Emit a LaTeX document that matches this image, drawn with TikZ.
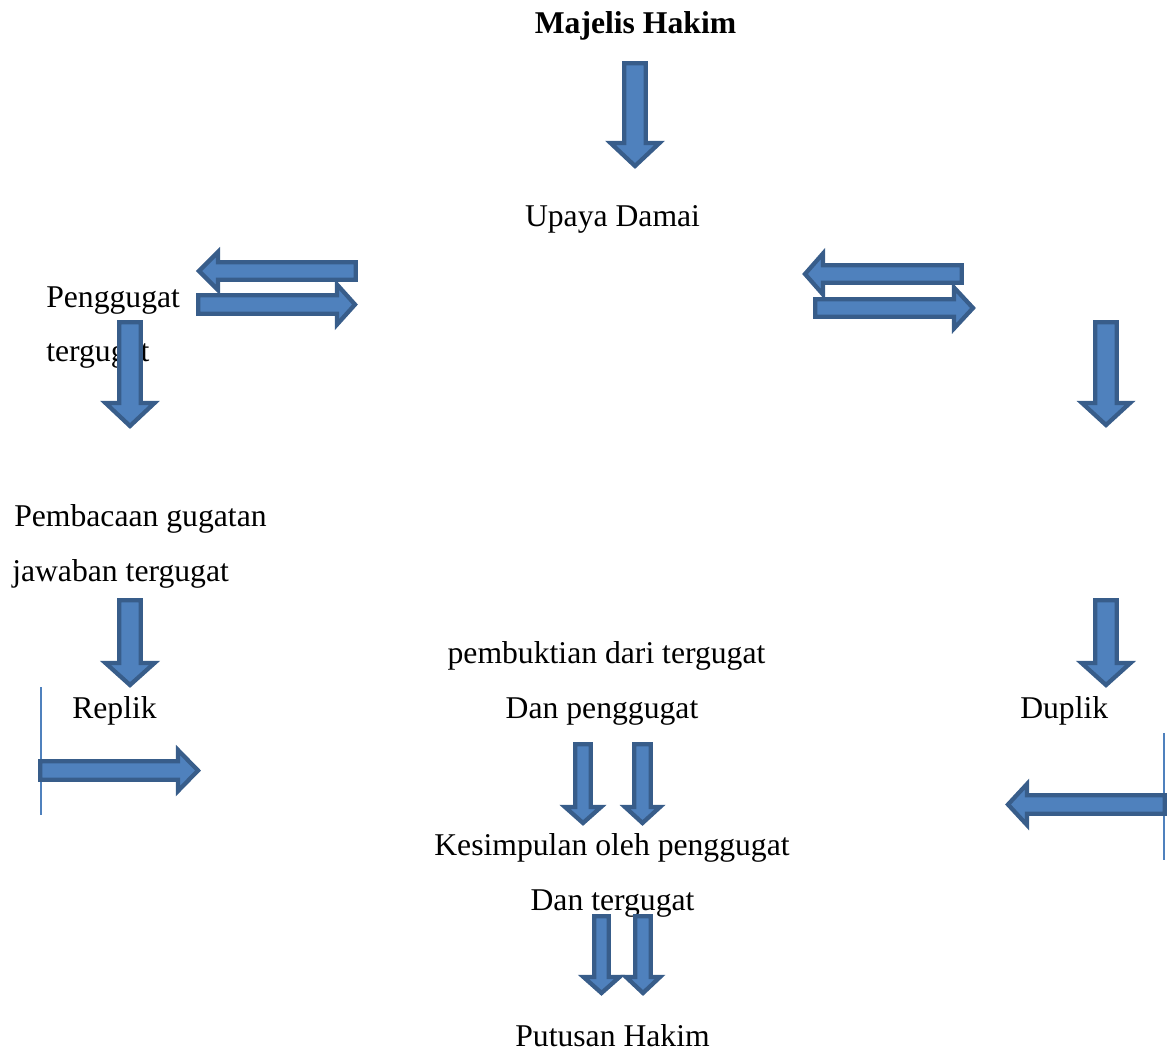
\documentclass[tikz,border=0pt]{standalone}
\usepackage{fontspec}
\setmainfont{Liberation Serif}
\definecolor{arrfill}{HTML}{4F81BD}
\definecolor{arrline}{HTML}{385D8A}
\tikzset{
  blockarrow/.style={fill=arrfill, draw=arrline, line width=3.2pt, line join=miter},
  lbl/.style={inner sep=0pt, font=\fontsize{23.75}{28}\selectfont},
  thinline/.style={draw=arrfill, line width=1.3pt}
}
% down arrow: cx, top, shaft half width, head base y, head half width, tip y (path coords, inset)
\newcommand{\myDownArrow}[6]{%
  \filldraw[blockarrow] ({#1-#3},#2) -- ({#1+#3},#2) -- ({#1+#3},#4) -- ({#1+#5},#4)
    -- (#1,#6) -- ({#1-#5},#4) -- ({#1-#3},#4) -- cycle;}
% horizontal arrow: cy, tail x, shaft half width, head base x, head half width, tip x
\newcommand{\myHorArrow}[6]{%
  \filldraw[blockarrow] (#2,{#1-#3}) -- (#4,{#1-#3}) -- (#4,{#1-#5}) -- (#6,#1)
    -- (#4,{#1+#5}) -- (#4,{#1+#3}) -- (#2,{#1+#3}) -- cycle;}
\begin{document}
\begin{tikzpicture}[x=0.75pt,y=-0.75pt]
\useasboundingbox (0,0) rectangle (1169,1053);

% texts
\node[lbl, anchor=base] (majelis) at (635.5,33) {\bfseries Majelis Hakim};
\node[lbl, anchor=base] (upaya) at (612.5,226) {Upaya Damai};
\node[lbl, anchor=base west] (penggugat) at (46,307) {Penggugat};
\node[lbl, anchor=base west] (tergugat) at (46,361) {tergugat};
\node[lbl, anchor=base west] (pembacaan) at (14,526) {Pembacaan gugatan};
\node[lbl, anchor=base west] (jawaban) at (12,581) {jawaban tergugat};
\node[lbl, anchor=base west] (replik) at (72,718) {Replik};
\node[lbl, anchor=base] (pembuktian) at (606.5,663) {pembuktian dari tergugat};
\node[lbl, anchor=base] (danpeng) at (602,718) {Dan penggugat};
\node[lbl, anchor=base west] (duplik) at (1020,718) {Duplik};
\node[lbl, anchor=base] (kesimpulan) at (612,855) {Kesimpulan oleh penggugat};
\node[lbl, anchor=base] (danterg) at (612.5,910) {Dan tergugat};
\node[lbl, anchor=base] (putusan) at (612.5,1046) {Putusan Hakim};

% thin vertical lines
\coordinate (l1a) at (41,687);
\coordinate (l1b) at (41,815);
\coordinate (l2a) at (1164,733);
\coordinate (l2b) at (1164,860);
\draw[thinline] (l1a) -- (l1b);
\draw[thinline] (l2a) -- (l2b);

% down arrows
\myDownArrow{635}{63.2}{10.8}{143}{24.5}{166}
\myDownArrow{130}{322.2}{10.8}{403}{24.5}{426}
\myDownArrow{1106}{322.2}{10.8}{403}{24}{425}
\myDownArrow{130}{600.2}{10.8}{663}{24.5}{685}
\myDownArrow{1106}{600.2}{10.8}{663}{24.5}{685}
\myDownArrow{583}{744.2}{7.8}{807}{18}{823}
\myDownArrow{642.5}{744.2}{8.3}{807}{17.5}{823}
\myDownArrow{601.5}{916.2}{7.3}{977}{18}{993}
\myDownArrow{643}{916.2}{7.8}{977}{17}{993}

% horizontal arrows
\myHorArrow{271}{355.8}{8.8}{218}{19}{199}
\myHorArrow{304.5}{198.2}{9.3}{337}{20}{355}
\myHorArrow{274}{961.8}{8.8}{823}{20.5}{805}
\myHorArrow{308}{815.2}{8.8}{954}{20.5}{973}
\myHorArrow{770.5}{40.2}{9.3}{178}{20.5}{198}
\myHorArrow{804.5}{1164.8}{9.3}{1027}{20.5}{1008}
\end{tikzpicture}
\end{document}
